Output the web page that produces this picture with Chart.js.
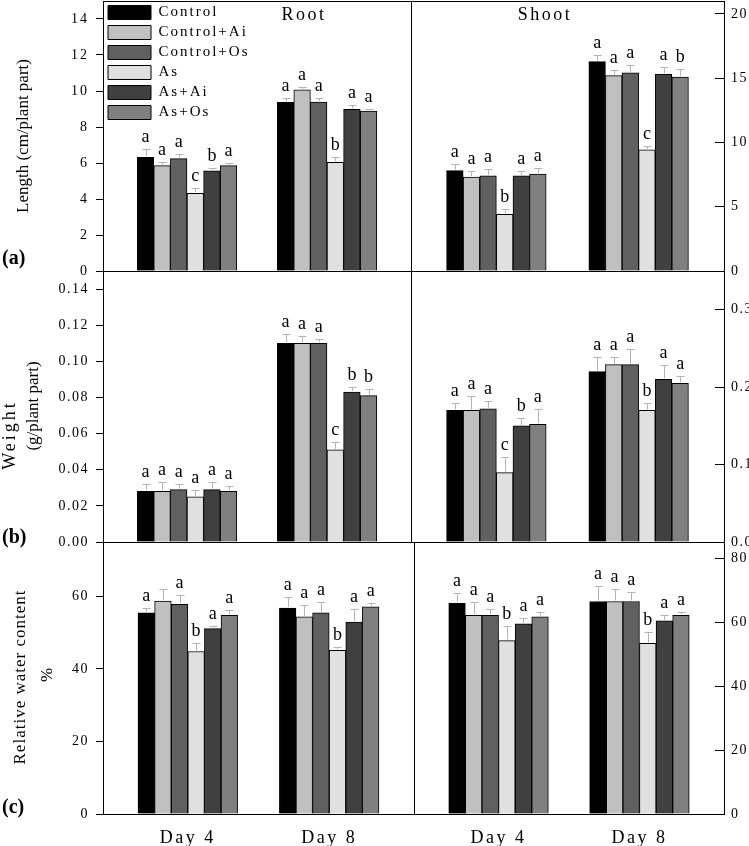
<!DOCTYPE html>
<html>
<head>
<meta charset="utf-8">
<script src="https://cdn.jsdelivr.net/npm/chart.js@4.4.1/dist/chart.umd.min.js"></script>
<style>
  html, body { margin: 0; padding: 0; background: #fff; }
  #fig { position: relative; width: 749px; height: 846px; background: #fff; }
  #fig canvas { position: absolute; left: 0; top: 0; }
</style>
</head>
<body>
<div id="fig"></div>
<script>
const days = ['Day 4', 'Day 8'];
const treatments = ['Control', 'Control+Ai', 'Control+Os', 'As', 'As+Ai', 'As+Os'];
const fills = ['#000000', '#c0c0c0', '#606060', '#e0e0e0', '#404040', '#808080'];

// one row per treatment, [Day 4, Day 8]
const rootLength    = [[6.32, 9.37], [5.85, 10.06], [6.24, 9.39], [4.32, 6.04], [5.57, 8.98], [5.85, 8.89]];
const rootLengthSE  = [[0.44, 0.22], [0.21, 0.15], [0.24, 0.20], [0.27, 0.28], [0.17, 0.24], [0.13, 0.13]];
const rootLengthSig = [['a', 'a'], ['a', 'a'], ['a', 'a'], ['c', 'b'], ['b', 'a'], ['a', 'a']];

const shootLength    = [[7.81, 16.28], [7.30, 15.19], [7.40, 15.42], [4.41, 9.42], [7.40, 15.32], [7.53, 15.08]];
const shootLengthSE  = [[0.52, 0.49], [0.51, 0.41], [0.52, 0.60], [0.39, 0.32], [0.41, 0.51], [0.52, 0.63]];
const shootLengthSig = [['a', 'a'], ['a', 'a'], ['a', 'a'], ['b', 'c'], ['a', 'a'], ['a', 'b']];

const rootWeight    = [[0.028, 0.110], [0.028, 0.110], [0.029, 0.110], [0.025, 0.051], [0.029, 0.083], [0.028, 0.081]];
const rootWeightSE  = [[0.0043, 0.0050], [0.0053, 0.0040], [0.0031, 0.0026], [0.0039, 0.0041], [0.0041, 0.0030], [0.0028, 0.0039]];
const rootWeightSig = [['a', 'a'], ['a', 'a'], ['a', 'a'], ['a', 'c'], ['a', 'b'], ['a', 'b']];

const shootWeight    = [[0.170, 0.220], [0.170, 0.229], [0.172, 0.229], [0.0895, 0.170], [0.150, 0.210], [0.152, 0.205]];
const shootWeightSE  = [[0.0098, 0.019], [0.019, 0.0098], [0.0095, 0.020], [0.0205, 0.0098], [0.0099, 0.019], [0.020, 0.0094]];
const shootWeightSig = [['a', 'a'], ['a', 'a'], ['a', 'a'], ['c', 'b'], ['b', 'a'], ['a', 'a']];

const rootWater    = [[55.5, 56.8], [58.7, 54.4], [57.8, 55.5], [44.8, 45.1], [51.1, 52.9], [54.8, 57.1]];
const rootWaterSE  = [[1.4, 3.1], [3.4, 3.1], [2.5, 2.9], [2.4, 1.0], [0.7, 3.5], [1.4, 1.0]];
const rootWaterSig = [['a', 'a'], ['', 'a'], ['a', 'a'], ['b', 'b'], ['a', 'a'], ['a', 'a']];

const shootWater    = [[65.8, 66.4], [62.1, 66.4], [62.1, 66.4], [54.2, 53.3], [59.4, 60.4], [61.6, 62.1]];
const shootWaterSE  = [[3.2, 4.9], [4.2, 3.9], [1.9, 2.9], [4.6, 3.7], [1.8, 1.8], [1.4, 0.9]];
const shootWaterSig = [['a', 'a'], ['a', 'a'], ['a', 'a'], ['b', 'b'], ['a', 'a'], ['a', 'a']];

const ticksRootLength  = [0, 2, 4, 6, 8, 10, 12, 14];
const ticksShootLength = [0, 5, 10, 15, 20];
const ticksRootWeight  = [0, 0.02, 0.04, 0.06, 0.08, 0.10, 0.12, 0.14];
const ticksShootWeight = [0, 0.1, 0.2, 0.3];
const ticksRootWater   = [0, 20, 40, 60];
const ticksShootWater  = [0, 20, 40, 60, 80];

const W = 749, H = 846;
const serif = '"Liberation Serif", "Times New Roman", serif';

// error bars, letters, titles and the panel frame
const panelDecor = {
    id: 'panelDecor',
    beforeDraw(chart, args, o) {
        chart.ctx.letterSpacing = o.spacing;
    },
    afterDatasetsDraw(chart, args, o) {
        const ctx = chart.ctx;
        const yScale = chart.scales.y;
        ctx.save();
        ctx.letterSpacing = '0px';
        chart.data.datasets.forEach((ds, i) => {
            chart.getDatasetMeta(i).data.forEach((bar, j) => {
                const top = yScale.getPixelForValue(ds.data[j].y + ds.err[j]);
                const bx = Math.round(bar.x) + 0.5;
                const ty = Math.round(top) + 0.5;
                ctx.strokeStyle = '#b4b4b4';
                ctx.lineWidth = 1;
                ctx.beginPath();
                ctx.moveTo(bx, bar.y - 1);
                ctx.lineTo(bx, ty);
                ctx.moveTo(bx - 4, ty);
                ctx.lineTo(bx + 4, ty);
                ctx.stroke();
                if (ds.sig[j]) {
                    ctx.fillStyle = '#000';
                    ctx.font = '18px ' + serif;
                    ctx.textAlign = 'center';
                    ctx.textBaseline = 'alphabetic';
                    ctx.fillText(ds.sig[j], bar.x, top - 7);
                }
            });
        });
        ctx.fillStyle = '#000';
        (o.titles || []).forEach(t => {
            ctx.save();
            ctx.letterSpacing = t.sp + 'px';
            ctx.translate(t.x, t.y);
            ctx.rotate(-Math.PI / 2);
            ctx.font = t.size + 'px ' + serif;
            ctx.textAlign = 'center';
            ctx.textBaseline = 'middle';
            ctx.fillText(t.text, 0, 0);
            ctx.restore();
        });
        if (o.heading) {
            ctx.save();
            ctx.letterSpacing = '2.5px';
            ctx.font = '18px ' + serif;
            ctx.textAlign = 'center';
            ctx.textBaseline = 'alphabetic';
            ctx.fillText(o.heading.text, o.heading.x, o.heading.y);
            ctx.restore();
        }
        if (o.tag) {
            ctx.font = 'bold 20px ' + serif;
            ctx.textAlign = 'left';
            ctx.textBaseline = 'middle';
            ctx.fillText(o.tag.text, 2, o.tag.y);
        }
        ctx.restore();
        ctx.letterSpacing = '2.5px';
    },
    afterDraw(chart) {
        const a = chart.chartArea;
        const ctx = chart.ctx;
        ctx.save();
        ctx.strokeStyle = '#000';
        ctx.lineWidth = 1;
        ctx.strokeRect(Math.round(a.left) + 0.5, Math.round(a.top) + 0.5,
                       Math.round(a.right - a.left), Math.round(a.bottom - a.top));
        ctx.restore();
    }
};

const panels = [
    {means: rootLength, errs: rootLengthSE, sig: rootLengthSig, ticks: ticksRootLength, dec: 0, max: 15,
     side: 'left', area: [103, 1, 411, 271], legend: true, spacing: '2px',
     heading: {text: 'Root', x: 304, y: 19.5}, tag: {text: '(a)', y: 259},
     titles: [{text: 'Length (cm/plant part)', x: 24, y: 136, size: 17, sp: 0}]},
    {means: shootLength, errs: shootLengthSE, sig: shootLengthSig, ticks: ticksShootLength, dec: 0, max: 21,
     side: 'right', area: [411, 1, 724, 271], heading: {text: 'Shoot', x: 545, y: 20}},
    {means: rootWeight, errs: rootWeightSE, sig: rootWeightSig, ticks: ticksRootWeight, dec: 2, max: 0.15,
     side: 'left', area: [103, 271, 411, 542], tag: {text: '(b)', y: 538},
     titles: [{text: 'Weight', x: 10, y: 435, size: 18, sp: 3},
              {text: '(g/plant part)', x: 34, y: 406, size: 17, sp: 0}]},
    {means: shootWeight, errs: shootWeightSE, sig: shootWeightSig, ticks: ticksShootWeight, dec: 1, max: 0.35,
     side: 'right', area: [411, 271, 724, 542]},
    {means: rootWater, errs: rootWaterSE, sig: rootWaterSig, ticks: ticksRootWater, dec: 0, max: 75,
     side: 'left', area: [103, 542, 414, 814], showDays: true, tag: {text: '(c)', y: 808},
     titles: [{text: 'Relative water content', x: 21, y: 677, size: 17, sp: 1},
              {text: '%', x: 48, y: 675, size: 17, sp: 0}]},
    {means: shootWater, errs: shootWaterSE, sig: shootWaterSig, ticks: ticksShootWater, dec: 0, max: 85,
     side: 'right', area: [414, 542, 724, 814], showDays: true}
];

function makeChart(p) {
    const canvas = document.createElement('canvas');
    canvas.width = W;
    canvas.height = H;
    document.getElementById('fig').appendChild(canvas);
    const [l, t, r, b] = p.area;
    const isLeft = p.side === 'left';

    const datasets = treatments.map((name, i) => ({
        label: name,
        data: days.map((d, j) => ({x: j, y: p.means[i][j]})),
        err: p.errs[i],
        sig: p.sig[i],
        backgroundColor: fills[i],
        borderColor: '#000',
        borderWidth: 1,
        barThickness: 16.6
    }));

    return new Chart(canvas, {
        type: 'bar',
        data: {datasets: datasets},
        options: {
            responsive: false,
            maintainAspectRatio: false,
            animation: false,
            events: [],
            layout: {
                padding: {
                    left: isLeft ? 0 : l,
                    right: isLeft ? W - r : 0,
                    top: t,
                    bottom: p.showDays ? 0 : H - b
                }
            },
            scales: {
                x: {
                    type: 'linear',
                    min: -0.6,
                    max: 1.6,
                    offset: false,
                    display: !!p.showDays,
                    grid: {display: false},
                    border: {display: false},
                    afterBuildTicks: s => { s.ticks = days.map((d, j) => ({value: j})); },
                    ticks: {
                        z: 1,
                        autoSkip: false,
                        maxRotation: 0,
                        padding: 5,
                        color: '#000',
                        font: {family: serif, size: 18},
                        callback: (v, i) => days[i]
                    },
                    afterFit: s => {
                        s.height = p.showDays ? H - b : 0;
                        s.paddingLeft = 0;
                        s.paddingRight = 0;
                    }
                },
                y: {
                    position: p.side,
                    min: 0,
                    max: p.max,
                    border: {color: '#000', width: 1},
                    grid: {
                        drawOnChartArea: false,
                        drawTicks: true,
                        tickLength: isLeft ? 7 : -9,
                        color: '#000'
                    },
                    afterBuildTicks: s => { s.ticks = p.ticks.map(v => ({value: v})); },
                    ticks: {
                        color: '#000',
                        padding: isLeft ? 7 : 16,
                        font: {family: serif, size: 14},
                        callback: v => v.toFixed(p.dec)
                    },
                    afterFit: s => {
                        s.width = isLeft ? l : W - r;
                        s.paddingTop = 0;
                        s.paddingBottom = 0;
                    }
                }
            },
            plugins: {
                legend: {
                    display: !!p.legend,
                    position: 'chartArea',
                    align: 'start',
                    labels: {
                        boxWidth: 43,
                        boxHeight: 14,
                        padding: 5,
                        color: '#000',
                        font: {family: serif, size: 15}
                    }
                },
                tooltip: {enabled: false},
                panelDecor: {
                    spacing: p.spacing || '1.5px',
                    titles: p.titles,
                    heading: p.heading,
                    tag: p.tag
                }
            }
        },
        plugins: [panelDecor]
    });
}

panels.forEach(makeChart);
</script>
</body>
</html>
